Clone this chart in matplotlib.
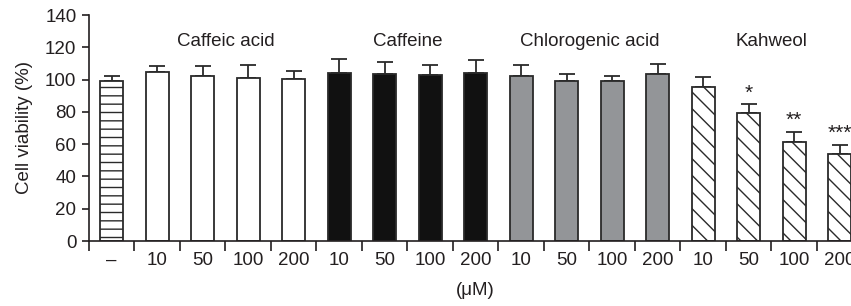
from matplotlib import pyplot as plt
from matplotlib import transforms
import numpy as np

plt.rcParams['font.family'] = ['Liberation Sans', 'DejaVu Sans']
plt.rcParams['hatch.linewidth'] = 1.0

# Data
tick_labels = ['–', '10', '50', '100', '200', '10', '50', '100', '200',
               '10', '50', '100', '200', '10', '50', '100', '200']
viability = [99, 104.9, 102.2, 101.2, 100.4, 104.3, 103.5, 102.7, 104.3,
             102.4, 99.1, 99.1, 103.3, 95.4, 79.5, 61.2, 53.9]
errors = [3.0, 3.7, 6.4, 7.8, 4.7, 8.3, 7.2, 6.5, 7.7,
          6.8, 4.6, 3.1, 6.1, 6.2, 5.2, 6.5, 5.8]
stars = ['', '', '', '', '', '', '', '', '', '', '', '', '', '', '*', '**', '***']
groups = ['Caffeic acid', 'Caffeine', 'Chlorogenic acid', 'Kahweol']

TEXT = '#231f20'
EDGE = '#2a2a2a'
GRAY = '#939598'
FS = 13.5

face = ['white'] * 5 + ['#111111'] * 4 + [GRAY] * 4 + ['white'] * 4
hatch = ['--'] + [''] * 12 + ['\\\\'] * 4

fig = plt.figure(figsize=(8.51, 3.06), dpi=100)
ax = fig.add_axes([89 / 851, 65 / 306, 1 - 89 / 851, 226 / 306])

x = np.arange(len(viability))
for i in x:
  ax.bar(i, viability[i], width=0.5, color=face[i], edgecolor=EDGE,
         linewidth=1.3, hatch=hatch[i], zorder=2)
ax.errorbar(x, viability, yerr=[np.zeros(len(errors)), errors], fmt='none',
            ecolor=EDGE, elinewidth=1.3, capsize=6, capthick=1.3, zorder=1)

for i in x:
  if stars[i]:
    ax.text(i, viability[i] + errors[i] + 1.0, stars[i], ha='center',
            va='bottom', fontsize=15, color=TEXT)

for g, name in enumerate(groups):
  ax.text(1 + 4 * g + 1.5, 123.5, name, ha='center', va='center',
          fontsize=FS, color=TEXT)

ax.set_xlim(-0.5, 16.25)
ax.set_ylim(0, 140)
ax.set_yticks(range(0, 141, 20))
ax.tick_params(axis='y', direction='out', length=5, width=1.2, pad=4,
               labelsize=FS, colors=TEXT)

ax.set_xticks(np.arange(-0.5, 16, 1.0))
ax.set_xticklabels([])
ax.tick_params(axis='x', which='major', direction='out', length=7, width=1.2,
               color=TEXT)
ax.set_xticks(x, minor=True)
ax.set_xticklabels(tick_labels, minor=True)
ax.tick_params(axis='x', which='minor', length=0, pad=8, labelsize=FS,
               labelcolor=TEXT)

for s in ['top', 'right']:
  ax.spines[s].set_visible(False)
for s in ['left', 'bottom']:
  ax.spines[s].set_linewidth(1.2)
  ax.spines[s].set_color(TEXT)

ax.set_ylabel('Cell viability (%)', fontsize=FS, color=TEXT, labelpad=9)

trans = transforms.blended_transform_factory(ax.transData, ax.transAxes)
ax.text(8, -0.221, '(μM)', transform=trans, ha='center', va='center',
        fontsize=FS, color=TEXT)

fig.savefig('out.png', dpi=100)
